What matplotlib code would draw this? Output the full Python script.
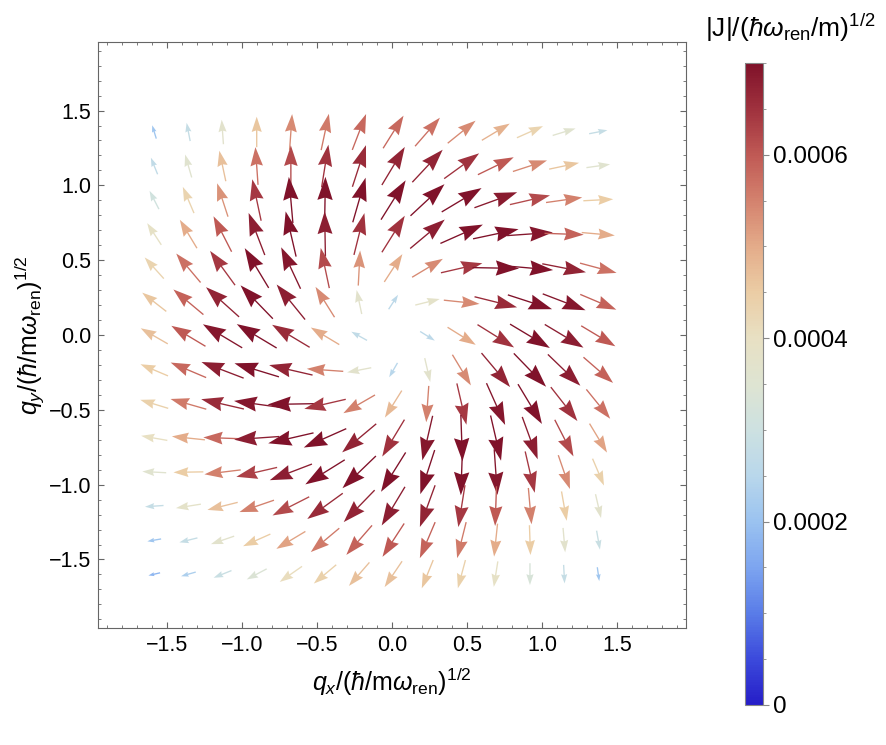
import numpy as np
import matplotlib
matplotlib.use("Agg")
import matplotlib.pyplot as plt
from matplotlib.colors import LinearSegmentedColormap, Normalize
from matplotlib.patches import FancyArrow
from matplotlib.ticker import MultipleLocator, FuncFormatter
from matplotlib.cm import ScalarMappable

plt.rcParams['font.family'] = ['Liberation Sans', 'DejaVu Sans']
plt.rcParams['mathtext.fontset'] = 'custom'
plt.rcParams['mathtext.rm'] = 'Liberation Sans'
plt.rcParams['mathtext.it'] = 'Liberation Sans:italic'

# Puntos de la malla (centros de las flechas)
qx = np.linspace(-1.585, 1.375, 14)
qy = np.linspace(1.357, -1.598, 14)   # fila superior primero

# Direccion de cada flecha en grados (fila = qy, columna = qx)
angulo = np.array([
    [107, 101,  94,  90,  86,  78,  69,  58,  49,  39,  31,  24,  17,  11],
    [112, 106, 102,  94,  90,  81,  72,  59,  47,  36,  26,  18,  12,   8],
    [117, 113, 108, 102,  95,  89,  74,  58,  43,  31,  20,  13,   8,   3],
    [123, 121, 117, 111, 103,  91,  76,  58,  40,  24,  12,   4,  -2,  -5],
    [132, 130, 126, 121, 115, 102,  87,  57,  31,  13,  -1,  -5, -11, -15],
    [142, 140, 138, 134, 129, 122, 102,  57,  14,  -6, -14, -18, -21, -23],
    [150, 149, 149, 149, 149, 149, 151,   0, -32, -32, -32, -31, -31, -31],
    [157, 157, 159, 163, 167, 176, 191, 240, 283, 301, 310, 314, 316, 319],
    [163, 164, 167, 172, 181, 193, 210, 238, 266, 283, 294, 301, 308, 309],
    [170, 174, 178, 184, 193, 204, 220, 239, 257, 272, 283, 290, 297, 301],
    [177, 181, 187, 193, 201, 212, 224, 238, 252, 268, 274, 283, 289, 293],
    [184, 189, 194, 199, 207, 216, 226, 239, 250, 261, 268, 275, 280, 283],
    [190, 194, 199, 204, 211, 220, 229, 237, 247, 256, 264, 272, 275, 280],
    [193, 196, 202, 208, 215, 220, 229, 236, 248, 255, 261, 270, 273, 278],
])

# Modulo |J| en unidades de 1e-4
modulo = np.array([
    [2.1, 2.8, 3.7, 4.6, 5.4, 5.6, 5.8, 5.8, 5.7, 5.4, 4.9, 4.3, 3.6, 2.8],
    [2.7, 3.6, 4.7, 5.7, 6.2, 6.5, 6.6, 6.7, 6.7, 6.5, 6.0, 5.4, 4.6, 3.6],
    [3.1, 4.3, 5.3, 6.4, 7.0, 7.0, 7.0, 7.0, 7.0, 7.0, 6.85, 6.2, 5.5, 4.5],
    [3.9, 5.0, 6.0, 6.8, 7.0, 6.8, 6.5, 6.5, 6.8, 7.0, 7.0, 6.9, 5.9, 5.0],
    [4.3, 5.7, 6.4, 7.0, 6.9, 6.2, 5.3, 5.0, 5.4, 6.4, 7.0, 7.0, 6.7, 5.7],
    [4.6, 5.9, 6.7, 7.0, 6.8, 5.4, 3.7, 2.6, 3.8, 5.4, 6.6, 7.0, 6.9, 5.9],
    [4.7, 6.0, 6.9, 7.0, 6.6, 5.0, 2.7, 0.0, 2.6, 5.0, 6.5, 7.0, 6.8, 6.0],
    [4.5, 5.8, 6.8, 7.0, 6.7, 5.5, 3.7, 2.5, 3.7, 5.4, 6.7, 7.0, 6.8, 5.9],
    [4.4, 5.6, 6.6, 6.9, 7.0, 6.4, 5.5, 4.8, 5.5, 6.4, 6.9, 7.0, 6.5, 5.7],
    [4.0, 5.0, 5.8, 6.8, 7.0, 7.0, 6.7, 6.5, 6.9, 7.0, 7.0, 6.8, 6.2, 5.1],
    [3.6, 4.5, 5.5, 6.3, 6.8, 7.0, 7.0, 7.0, 7.0, 7.0, 6.9, 6.4, 5.4, 4.4],
    [2.8, 3.8, 4.7, 5.5, 6.2, 6.6, 6.7, 6.8, 6.7, 6.4, 6.0, 5.5, 4.5, 3.7],
    [2.1, 2.8, 3.7, 4.5, 5.1, 5.6, 5.9, 6.0, 5.9, 5.6, 5.0, 4.5, 3.7, 2.9],
    [1.8, 2.3, 2.9, 3.4, 4.1, 4.4, 4.7, 4.7, 4.6, 4.4, 3.9, 3.3, 2.8, 2.1],
]) * 1e-4

jmax = 7e-4
cb_ticks = [0, 2e-4, 4e-4, 6e-4]

# Paleta tipo "ThermometerColors"
colores = [(38, 30, 200), (60, 75, 220), (90, 125, 232), (125, 165, 240),
           (155, 195, 240), (185, 215, 235), (205, 225, 225), (222, 228, 210),
           (232, 224, 195), (235, 205, 165), (228, 172, 138), (212, 130, 110),
           (192, 90, 85), (160, 50, 62), (128, 18, 42)]
cmap = LinearSegmentedColormap.from_list(
    "termo", [tuple(c / 255 for c in col) for col in colores])
norma = Normalize(0, jmax)

fig = plt.figure(figsize=(8.86, 7.45), dpi=100)
ax = fig.add_axes([0.1106, 0.1566, 0.6637, 0.7874])

largo_max = 0.31
for i, y0 in enumerate(qy):
    for j, x0 in enumerate(qx):
        m = modulo[i, j]
        if m <= 0:
            continue
        L = m / jmax * largo_max
        a = np.deg2rad(angulo[i, j])
        dx, dy = L * np.cos(a), L * np.sin(a)
        ax.add_patch(FancyArrow(x0 - dx / 2, y0 - dy / 2, dx, dy,
                                width=0.009, head_width=0.33 * L,
                                head_length=0.5 * L, overhang=0.1,
                                length_includes_head=True,
                                color=cmap(norma(m)), lw=0))

ax.set_xlim(-1.96, 1.96)
ax.set_ylim(-1.96, 1.96)
for s in ax.spines.values():
    s.set_color('#666666')
ax.xaxis.set_major_locator(MultipleLocator(0.5))
ax.yaxis.set_major_locator(MultipleLocator(0.5))
ax.xaxis.set_minor_locator(MultipleLocator(0.1))
ax.yaxis.set_minor_locator(MultipleLocator(0.1))
ax.tick_params(which='both', direction='in', top=True, right=True,
               colors='#666666', labelcolor='black', labelsize=15.5, pad=5)
ax.tick_params(which='major', length=4.5)
ax.tick_params(which='minor', length=2.5)
ax.set_xlabel(r'$q_x/(\hbar/\mathrm{m}\omega_{\mathrm{ren}})^{1/2}$',
              fontsize=18, labelpad=7)
ax.set_ylabel(r'$q_y/(\hbar/\mathrm{m}\omega_{\mathrm{ren}})^{1/2}$',
              fontsize=18, labelpad=2)

# Barra de color
cax = fig.add_axes([0.8409, 0.0537, 0.0203, 0.8617])
sm = ScalarMappable(norm=norma, cmap=cmap)
cb = fig.colorbar(sm, cax=cax)
cb.outline.set_edgecolor('#888888')
cb.set_ticks(cb_ticks)
cb.ax.yaxis.set_major_formatter(
    FuncFormatter(lambda v, p: '0' if v == 0 else f'{v:.4f}'))
cb.ax.yaxis.set_minor_locator(MultipleLocator(5e-5))
cb.ax.tick_params(which='both', direction='out', colors='#888888',
                  labelcolor='black', labelsize=17.5, pad=3)
cb.ax.tick_params(which='major', length=4)
cb.ax.tick_params(which='minor', length=2.5)
fig.text(0.892, 0.962, r'$|\mathrm{J}|/(\hbar\omega_{\mathrm{ren}}/\mathrm{m})^{1/2}$',
         ha='center', va='center', fontsize=19)

fig.savefig("out.png", dpi=100)
